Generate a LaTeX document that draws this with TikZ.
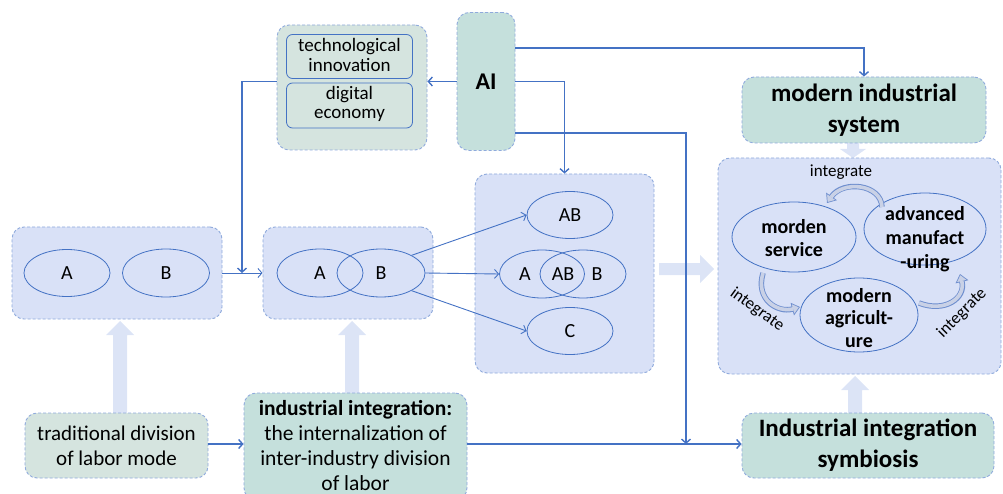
\documentclass[tikz,border=0pt]{standalone}
\usepackage{fontspec}
\setmainfont{Carlito}
\usetikzlibrary{shapes.geometric,arrows.meta,calc}
\definecolor{lineblue}{HTML}{4472C4}
\definecolor{dashblue}{HTML}{8FAADC}
\definecolor{lav}{HTML}{D9E1F7}
\definecolor{teal}{HTML}{C5E0DC}
\definecolor{sage}{HTML}{D5E4DF}
\definecolor{widefill}{HTML}{DCE4F6}
\definecolor{curveedge}{HTML}{6F8FCF}
\definecolor{curvefill}{HTML}{C9D1E6}
\begin{document}
\begin{tikzpicture}[x=1pt,y=-1pt,
  panel/.style={rectangle, rounded corners=12pt, draw=dashblue,
    dash pattern=on 3pt off 2pt, line width=0.9pt, fill=lav, inner sep=0pt},
  tealbox/.style={panel, fill=teal},
  sagebox/.style={panel, fill=sage},
  ell/.style={ellipse, draw=lineblue, line width=0.8pt, inner sep=0pt,
    font=\fontsize{20}{24}\selectfont},
  txt/.style={align=center, inner sep=0pt, font=\fontsize{21}{25}\selectfont},
  btxt/.style={align=center, inner sep=0pt, font=\bfseries\fontsize{25}{31}\selectfont},
  ctxt/.style={align=center, inner sep=0pt, font=\bfseries\fontsize{20}{23}\selectfont},
  link/.style={draw=lineblue, line width=1.4pt, -{Straight Barb[length=4pt,width=9pt]}},
  thinlink/.style={link, line width=0.9pt},
  wide/.style={fill=widefill},
  cycarrow/.style={line width=5.5pt, draw=curveedge,
    -{Triangle[length=8pt,width=13pt,fill=curvefill,line width=0.7pt]}},
  cycfill/.style={line width=3.6pt, draw=curvefill, shorten >=7pt}
]
\useasboundingbox (0,0) rectangle (1003,494);

% wide light arrows between stages
\fill[wide] (113,413) -- (113,335) -- (106,335) -- (120,321) -- (134,335) -- (127,335) -- (127,413) -- cycle;
\fill[wide] (345,393) -- (345,335) -- (338,335) -- (352,321) -- (366,335) -- (359,335) -- (359,393) -- cycle;
\fill[wide] (659,263) -- (700,263) -- (700,255) -- (714,269) -- (700,283) -- (700,275) -- (659,275) -- cycle;
\fill[wide] (847,143) -- (859,143) -- (859,149) -- (866,149) -- (853,158) -- (840,149) -- (847,149) -- cycle;
\fill[wide] (848,413) -- (848,390) -- (841,390) -- (855,376) -- (869,390) -- (862,390) -- (862,413) -- cycle;

% left panels
\node[panel, minimum width=210pt, minimum height=92pt] (p1) at (117,273) {};
\node[ell, minimum width=86pt, minimum height=47pt] (a1) at (67,273) {A};
\node[ell, minimum width=87pt, minimum height=48pt] (b0) at (166,273) {B};

\node[panel, minimum width=170pt, minimum height=92pt] (p2) at (348,273) {};
\node[ell, minimum width=86pt, minimum height=48pt] (a2) at (320,273) {A};
\node[ell, minimum width=88pt, minimum height=48pt] (b2) at (381,273) {};
\node[txt, font=\fontsize{20}{24}\selectfont] (b2t) at (381,273) {B};

% result panel
\node[panel, minimum width=179pt, minimum height=199pt] (p3) at (564.5,273.5) {};
\node[ell, minimum width=86pt, minimum height=47pt] (ab) at (570,215) {AB};
\node[ell, minimum width=85pt, minimum height=48pt] (a3) at (542,274) {};
\node[ell, minimum width=86pt, minimum height=48pt] (b3) at (583,274) {};
\node[txt, font=\fontsize{20}{24}\selectfont] (a3t) at (525,274) {A};
\node[txt, font=\fontsize{20}{24}\selectfont] (ab3t) at (563,274) {AB};
\node[txt, font=\fontsize{20}{24}\selectfont] (b3t) at (597,274) {B};
\node[ell, minimum width=86pt, minimum height=47pt] (c) at (570,331) {C};

% drivers
\node[sagebox, minimum width=150pt, minimum height=125pt] (tech) at (352,87.5) {};
\node[rectangle, rounded corners=6pt, draw=lineblue, line width=0.8pt,
  minimum width=126pt, minimum height=44pt] (ti) at (349.5,56.5) {};
\node[rectangle, rounded corners=6pt, draw=lineblue, line width=0.8pt,
  minimum width=126pt, minimum height=45pt] (de) at (349.5,105.5) {};
\node[txt, font=\fontsize{19}{19.5}\selectfont] (tit) at (349.5,55) {technological\\innovation};
\node[txt, font=\fontsize{19}{19.5}\selectfont] (det) at (349.5,104) {digital\\economy};

\node[tealbox, minimum width=58pt, minimum height=138pt] (ai) at (486,81.5) {};
\node[btxt, font=\bfseries\fontsize{24}{28}\selectfont] (ait) at (486,81.5) {AI};

% industrial system
\node[tealbox, minimum width=244pt, minimum height=66pt] (mis) at (864,110) {};
\node[btxt] (mist) at (864,110) {modern industrial\\system};

\node[panel, minimum width=283pt, minimum height=216pt] (big) at (859.5,266) {};
\node[ell, minimum width=124pt, minimum height=70pt] (ms) at (794,237) {};
\node[ctxt] (mst) at (794,238.5) {morden\\service};
\node[ell, minimum width=122pt, minimum height=72pt] (am) at (925,229) {};
\node[ctxt, font=\bfseries\fontsize{20}{24}\selectfont] (amt) at (925,239) {advanced\\manufact\\-uring};
\node[ell, minimum width=118pt, minimum height=74pt] (ma) at (859,315) {};
\node[ctxt, font=\bfseries\fontsize{20}{22.5}\selectfont] (mat) at (859,318) {modern\\agricult-\\ure};

\node[txt, font=\fontsize{17}{20}\selectfont] (ig1) at (841,172) {integrate};
\node[txt, font=\fontsize{17}{20}\selectfont, rotate=-36] (ig2) at (757,310) {integrate};
\node[txt, font=\fontsize{17}{20}\selectfont, rotate=45] (ig3) at (962,313) {integrate};

\draw[cycarrow] (882,207) .. controls (881,184) and (843,180) .. (827,203);
\draw[cycfill]  (882,207) .. controls (881,184) and (843,180) .. (827,203);
\draw[cycarrow] (763,273) .. controls (755,300) and (778,313) .. (800,307);
\draw[cycfill]  (763,273) .. controls (755,300) and (778,313) .. (800,307);
\draw[cycarrow] (919,303) .. controls (945,313) and (966,298) .. (960,274);
\draw[cycfill]  (919,303) .. controls (945,313) and (966,298) .. (960,274);

% bottom row
\node[sagebox, minimum width=183pt, minimum height=65pt] (trad) at (116.5,445.5) {};
\node[txt] (tradt) at (116.5,445.5) {traditional division\\of labor mode};

\node[tealbox, minimum width=223pt, minimum height=107pt] (ii) at (355.5,446.5) {};
\node[txt, font=\fontsize{21.5}{25}\selectfont] (iit) at (355.5,445.5)
  {\textbf{industrial integration:}\\the internalization of\\inter-industry division\\of labor};

\node[tealbox, minimum width=252pt, minimum height=65pt] (sym) at (868,445.5) {};
\node[btxt] (symt) at (868,445.5) {Industrial integration\\symbiosis};

% connectors
\coordinate (j1) at (242,273);
\coordinate (j2) at (686,444);
\coordinate (aitop) at (515,48);
\coordinate (ailow) at (515,133);

\draw[thinlink] (p1.east) -- (p2.west);
\draw[link] (ai.west) -- (ai.west -| tech.east);
\draw[link] (tech.west |- ai.west) -| (j1);
\draw[link] (aitop) -| (mis.north);
\draw[link] (ai.east) -| (p3.north);
\draw[link] (ailow) -| (j2);
\draw[thinlink] (b2.30) -- (ab.west);
\draw[thinlink] (b2.east) -- (a3.west);
\draw[thinlink] (b2.-30) -- (c.west);
\draw[link] (trad.east |- 0,444) -- (ii.west |- 0,444);
\draw[link] (ii.east |- 0,444) -- (sym.west |- 0,444);
\end{tikzpicture}
\end{document}
